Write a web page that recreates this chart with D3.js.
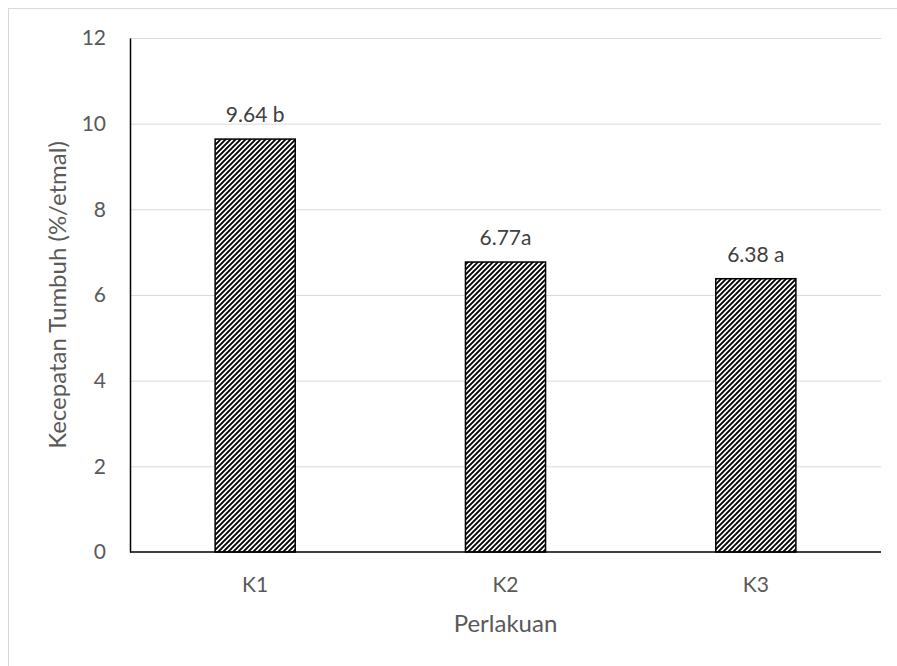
<!DOCTYPE html>
<html><head><meta charset="utf-8">
<script src="https://cdn.jsdelivr.net/npm/d3@7"></script>
<style>body{margin:0;background:#fff}svg text{font-family:Lato,"Open Sans",sans-serif}</style>
</head><body>
<svg id="c" width="897" height="666"></svg>
<script>
const categories = ["K1","K2","K3"];
const values = [9.64, 6.77, 6.38];
const barLabels = ["9.64 b","6.77a","6.38 a"];
const yTicks = [0,2,4,6,8,10,12];

const svg = d3.select("#c");
const m = {left:130, right:881, top:38, bottom:552};
svg.append("rect").attr("x",8.5).attr("y",8.5).attr("width",900).attr("height",700)
  .attr("fill","#fff").attr("stroke","#d9d9d9").attr("stroke-width",1);

const defs = svg.append("defs");
const pat = defs.append("pattern").attr("id","diag").attr("patternUnits","userSpaceOnUse")
  .attr("width",5).attr("height",5);
pat.append("rect").attr("width",5).attr("height",5).attr("fill","#fff");
pat.append("path").attr("d","M-1,1 L1,-1 M0,5 L5,0 M4,6 L6,4").attr("stroke","#000").attr("stroke-width",1.9);

const x = d3.scaleBand().domain(categories).range([m.left,m.right]).paddingInner(0.68).paddingOuter(0.34);
const y = d3.scaleLinear().domain([0,12]).range([m.bottom,m.top]);

svg.append("g").selectAll("line").data(yTicks.filter(d=>d>0)).join("line")
  .attr("x1",m.left).attr("x2",m.right).attr("y1",d=>y(d)+0.5).attr("y2",d=>y(d)+0.5)
  .attr("stroke","#d9d9d9").attr("stroke-width",1);

svg.append("g").selectAll("rect").data(values).join("rect")
  .attr("x",(d,i)=>x(categories[i])).attr("y",d=>y(d))
  .attr("width",x.bandwidth()).attr("height",d=>y(0)-y(d))
  .attr("fill","url(#diag)").attr("stroke","#000").attr("stroke-width",1.5);

svg.append("g").selectAll("text").data(values).join("text")
  .attr("x",(d,i)=>x(categories[i])+x.bandwidth()/2).attr("y",d=>y(d)-17)
  .attr("text-anchor","middle").attr("font-size",21).attr("fill","#404040")
  .text((d,i)=>barLabels[i]);

// axes
const yAxis = d3.axisLeft(y).tickValues(yTicks).tickSize(0).tickPadding(24);
const gy = svg.append("g").attr("transform",`translate(${m.left},0)`).call(yAxis);
gy.select(".domain").attr("stroke","#000").attr("stroke-width",1.5);
gy.selectAll("text").attr("font-size",21).attr("fill","#595959").attr("font-family","Lato,sans-serif");

const xAxis = d3.axisBottom(x).tickSize(0);
const gx = svg.append("g").attr("transform",`translate(0,${m.bottom})`).call(xAxis);
gx.select(".domain").attr("d",`M${m.left},0H${m.right}`).attr("stroke","#000").attr("stroke-width",1.5);
gx.selectAll("text").attr("y",40).attr("dy",0).attr("font-size",21).attr("fill","#595959").attr("font-family","Lato,sans-serif");

svg.append("text").attr("x",(m.left+m.right)/2).attr("y",632).attr("text-anchor","middle")
  .attr("font-size",24).attr("fill","#595959").text("Perlakuan");
svg.append("text").attr("transform",`translate(66,${(m.top+m.bottom)/2}) rotate(-90)`)
  .attr("text-anchor","middle").attr("font-size",24).attr("fill","#595959").text("Kecepatan Tumbuh (%/etmal)");
</script>
</body></html>
